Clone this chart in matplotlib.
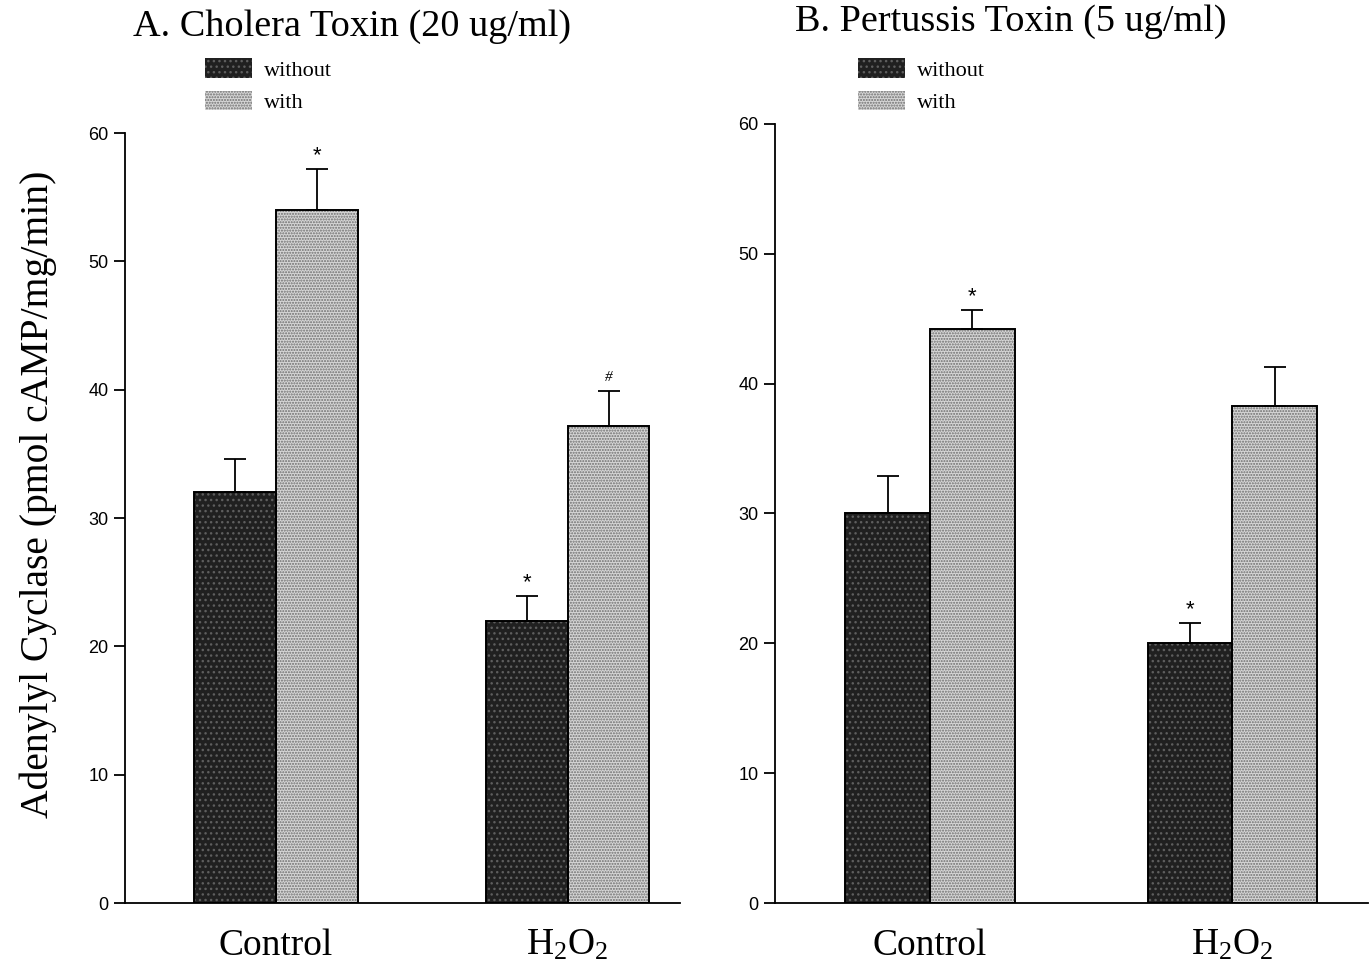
import numpy as np
import matplotlib
matplotlib.use("Agg")
from matplotlib import pyplot as plt
from matplotlib.patches import Patch

# adenylyl cyclase activity, pmol cAMP/mg/min
groups = ["Control", r"$\mathregular{H_2O_2}$"]

cholera_without = [32.0, 22.0]
cholera_without_err = [2.6, 1.9]
cholera_with = [54.0, 37.2]
cholera_with_err = [3.2, 2.7]
cholera_marks_without = ["", "*"]
cholera_marks_with = ["*", "#"]

pertussis_without = [30.0, 20.0]
pertussis_without_err = [2.9, 1.6]
pertussis_with = [44.2, 38.3]
pertussis_with_err = [1.5, 3.0]
pertussis_marks_without = ["", "*"]
pertussis_marks_with = ["*", ""]

SERIF = "Liberation Serif"
SANS = "Liberation Sans"

DARK = dict(fill="#202020", dots="#5e5e5e", hatch="...")
LIGHT = dict(fill="#d6d6d6", dots="#6e6e6e", hatch="......")


def textured_bar(ax, x, h, w, style):
    ax.bar(x, h, w, color=style["fill"], edgecolor=style["dots"],
           hatch=style["hatch"], linewidth=0, zorder=2)
    ax.bar(x, h, w, fill=False, edgecolor="black", linewidth=1.4, zorder=3)


def draw_panel(ax, without, without_err, with_, with_err, marks_wo, marks_w, xlim):
    x = np.arange(len(groups))
    w = 0.28
    for xs, vals, errs, marks, style in [
        (x - w / 2, without, without_err, marks_wo, DARK),
        (x + w / 2, with_, with_err, marks_w, LIGHT),
    ]:
        for xi, v, e, m in zip(xs, vals, errs, marks):
            textured_bar(ax, xi, v, w, style)
            ax.errorbar(xi, v, yerr=[[0], [e]], fmt="none", ecolor="black",
                        elinewidth=1.3, capsize=8, capthick=1.3, zorder=4)
            if m == "*":
                ax.annotate("*", (xi, v + e), xytext=(0, 2), textcoords="offset points",
                            ha="center", va="bottom", fontsize=16, family=SANS)
            elif m:
                ax.annotate(m, (xi, v + e), xytext=(0, 5), textcoords="offset points",
                            ha="center", va="bottom", fontsize=11, family=SERIF,
                            style="italic")

    ax.set_xlim(*xlim)
    ax.set_ylim(0, 60)
    ax.set_yticks([0, 10, 20, 30, 40, 50, 60])
    ax.spines["top"].set_visible(False)
    ax.spines["right"].set_visible(False)
    ax.spines["left"].set_linewidth(1.3)
    ax.spines["bottom"].set_linewidth(1.3)
    ax.tick_params(axis="y", direction="out", length=8, width=1.3, labelsize=13, pad=4)
    for lab in ax.get_yticklabels():
        lab.set_family(SANS)
    ax.set_xticks(x)
    ax.set_xticklabels(groups, fontsize=27, family=SERIF)
    ax.tick_params(axis="x", length=0, pad=18)

    handles = [Patch(facecolor=DARK["fill"], edgecolor=DARK["dots"], hatch=DARK["hatch"], linewidth=0),
               Patch(facecolor=LIGHT["fill"], edgecolor=LIGHT["dots"], hatch=LIGHT["hatch"], linewidth=0)]
    return handles


fig = plt.figure(figsize=(13.7, 9.69), dpi=100)
ax1 = fig.add_axes([0.0912, 0.0681, 0.405, 0.7946])
ax2 = fig.add_axes([0.5657, 0.0681, 0.433, 0.804])

h1 = draw_panel(ax1, cholera_without, cholera_without_err, cholera_with, cholera_with_err,
                cholera_marks_without, cholera_marks_with, (-0.517, 1.384))
h2 = draw_panel(ax2, pertussis_without, pertussis_without_err, pertussis_with, pertussis_with_err,
                pertussis_marks_without, pertussis_marks_with, (-0.513, 1.45))

fig.text(352 / 1370, 1 - 27 / 969, "A. Cholera Toxin (20 ug/ml)", ha="center", va="center",
         fontsize=27.5, family=SERIF)
fig.text(1011 / 1370, 1 - 22 / 969, "B. Pertussis Toxin (5 ug/ml)", ha="center", va="center",
         fontsize=27.5, family=SERIF)
fig.text(38 / 1370, 1 - 494 / 969, "Adenylyl Cyclase (pmol cAMP/mg/min)", ha="center", va="center",
         rotation=90, fontsize=28.5, family=SERIF)

for handles, x0 in [(h1, 205), (h2, 858)]:
    fig.legend(handles, ["without", "with"], loc="upper left",
               bbox_to_anchor=(x0 / 1370, 1 - 58 / 969), frameon=False,
               prop={"family": SERIF, "size": 16}, handlelength=2.1, handleheight=1.0,
               handletextpad=0.55, labelspacing=0.45, borderpad=0, borderaxespad=0)

plt.savefig("out.png", dpi=100)
